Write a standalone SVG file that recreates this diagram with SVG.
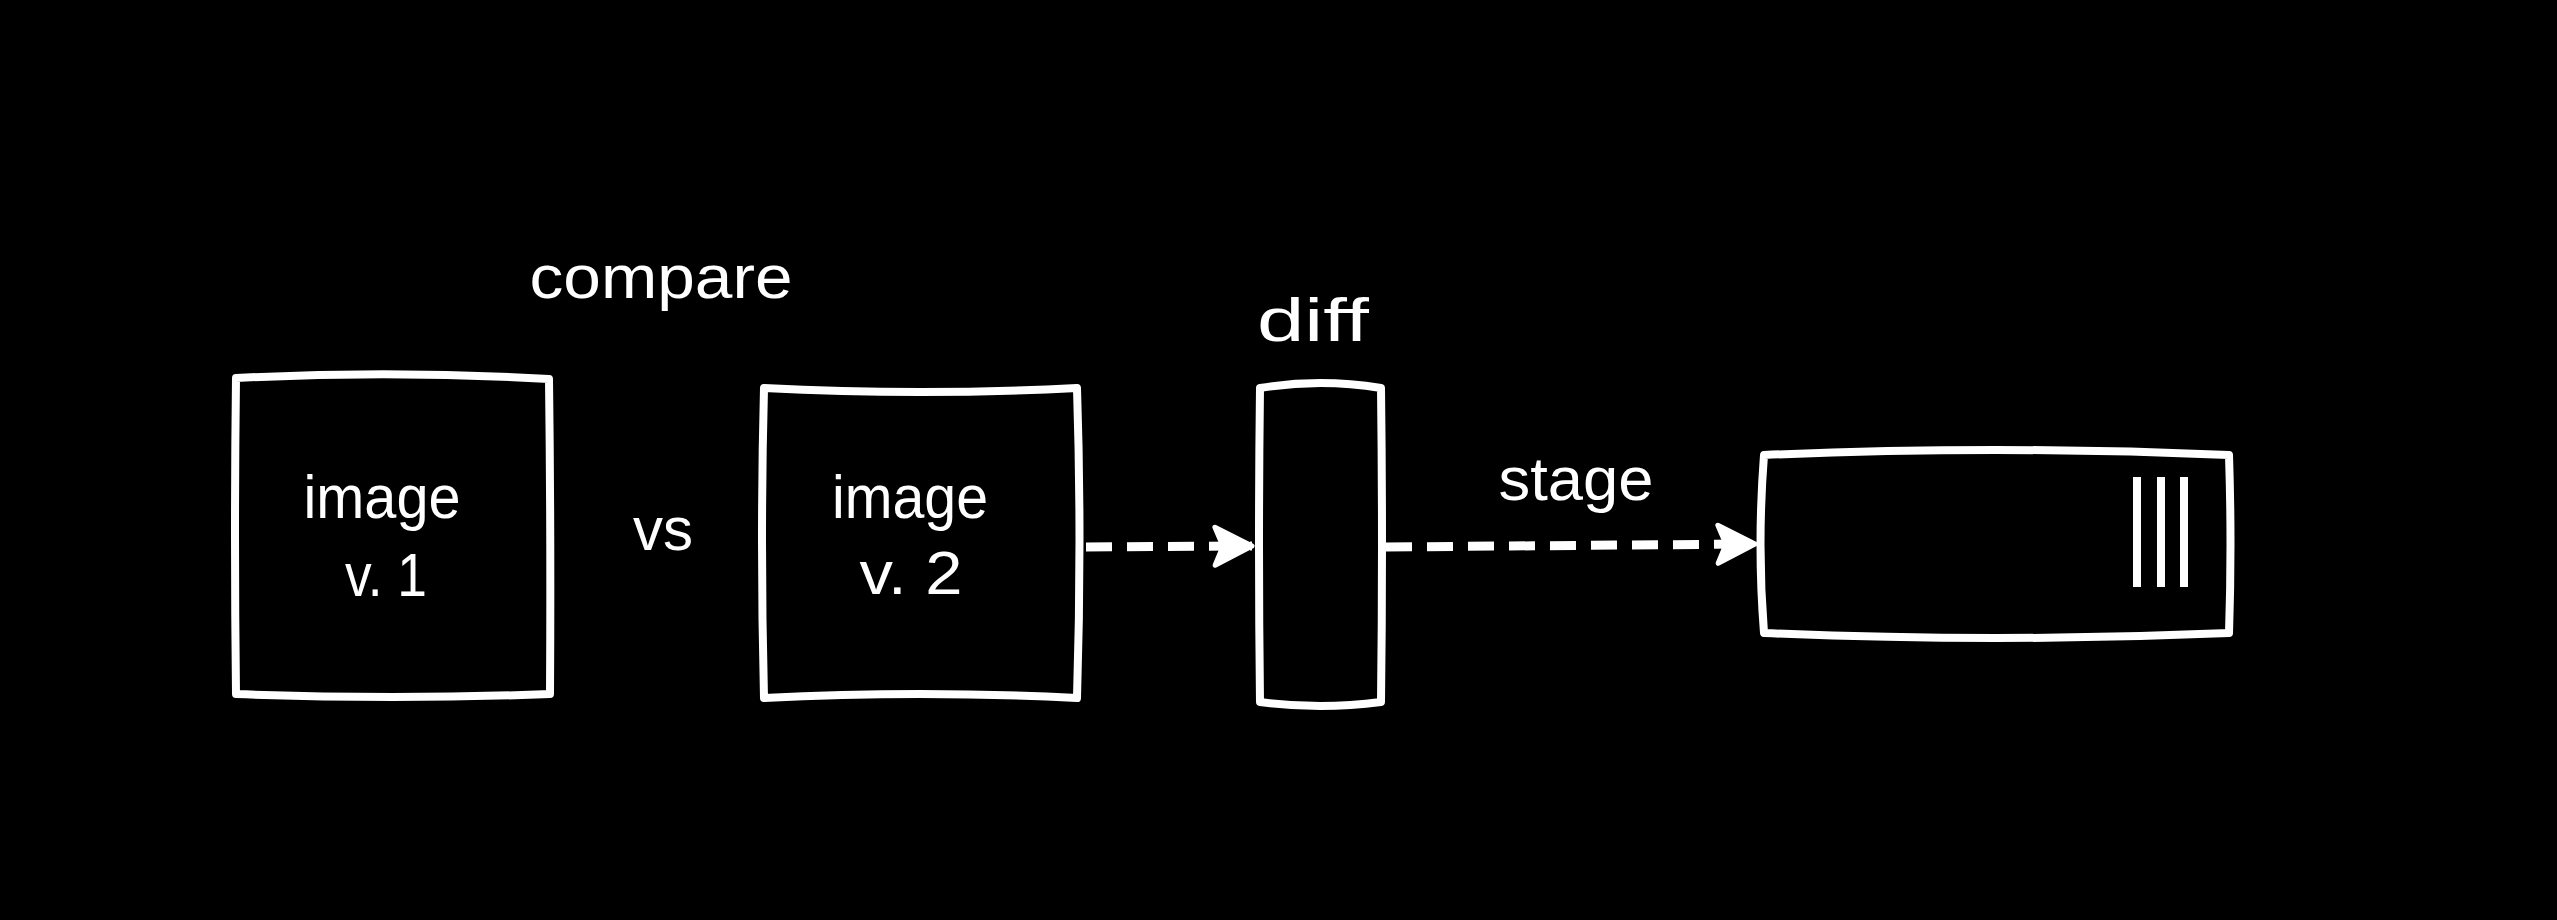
<svg xmlns="http://www.w3.org/2000/svg" width="2557" height="920" viewBox="0 0 2557 920">
<style>
.box{fill:#000;stroke:#fff;stroke-width:8;stroke-linejoin:round;stroke-linecap:round}
.lbl{fill:#fff;font-family:"Liberation Sans",Arial,sans-serif;font-size:62px;text-anchor:middle}
.conn{fill:none;stroke:#fff;stroke-width:9;stroke-dasharray:26 15;stroke-linecap:butt}
.bar{fill:#fff}
</style>
<defs>
<marker id="ah" markerUnits="userSpaceOnUse" markerWidth="50" markerHeight="50" refX="40" refY="20" orient="auto" overflow="visible">
<path d="M3,1 L40,20 L3,39 L11,20 Z" fill="#fff" stroke="#fff" stroke-width="5" stroke-linejoin="round"/>
</marker>
</defs>
<rect x="0" y="0" width="2557" height="920" fill="#000"/>
<g id="compare-label"><text class="lbl" x="661" y="298" textLength="263" lengthAdjust="spacingAndGlyphs">compare</text></g>
<g id="image-v1">
<path class="box" d="M236,378 Q392,370 549,379 Q551,536 550,694 Q392,700 236,694 Q234,536 236,378 Z"/>
<text class="lbl" x="382" y="518" textLength="157" lengthAdjust="spacingAndGlyphs">image</text>
<text class="lbl" x="386" y="596" textLength="82" lengthAdjust="spacingAndGlyphs">v. 1</text>
</g>
<g id="vs-label"><text class="lbl" x="663" y="550" textLength="60" lengthAdjust="spacingAndGlyphs">vs</text></g>
<g id="image-v2">
<path class="box" d="M764,388 Q920,396 1077,388 Q1082,540 1077,698 Q920,690 764,698 Q760,540 764,388 Z"/>
<text class="lbl" x="910" y="518" textLength="156" lengthAdjust="spacingAndGlyphs">image</text>
<text class="lbl" x="911" y="594" textLength="103" lengthAdjust="spacingAndGlyphs">v. 2</text>
</g>
<g id="diff">
<path class="box" d="M1260,388 Q1320,378 1381,388 Q1383,545 1381,702 Q1320,710 1260,702 Q1258,545 1260,388 Z"/>
<text class="lbl" x="1313" y="341" textLength="112" lengthAdjust="spacingAndGlyphs">diff</text>
</g>
<g id="stage">
<path class="box" d="M1764,455 Q1996,445 2229,455 Q2232,545 2229,633 Q1996,643 1764,633 Q1757,545 1764,455 Z"/>
<rect class="bar" x="2133" y="477" width="8" height="110"/>
<rect class="bar" x="2157" y="477" width="8" height="110"/>
<rect class="bar" x="2180" y="477" width="8" height="110"/>
</g>
<g id="connectors">
<path class="conn" d="M1086,547 L1252,546" marker-end="url(#ah)"/>
<path class="conn" d="M1386,547 L1755,544" marker-end="url(#ah)"/>
<text class="lbl" x="1576" y="500" textLength="155" lengthAdjust="spacingAndGlyphs">stage</text>
</g>
</svg>
